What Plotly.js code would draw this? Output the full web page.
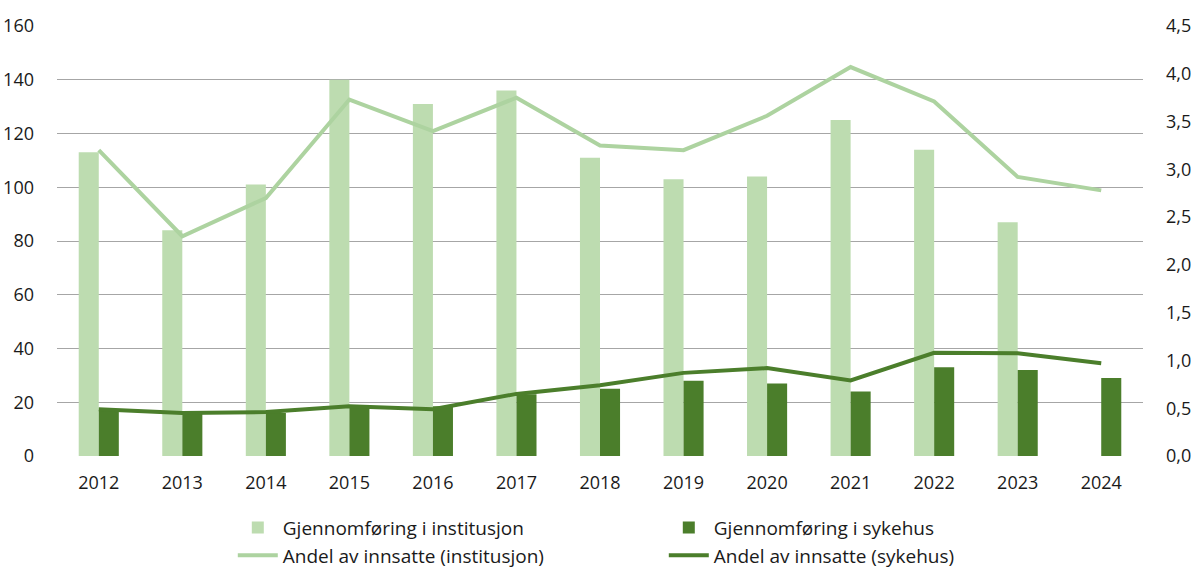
<!DOCTYPE html>
<html>
<head>
<meta charset="utf-8">
<script src="https://cdn.plot.ly/plotly-3.0.1.min.js"></script>
<style>
  html, body { margin: 0; padding: 0; background: #fff; }
  #chart { width: 1200px; height: 584px; }
</style>
</head>
<body>
<div id="chart"></div>
<script>
"use strict";

// years on the x axis
const years = ["2012", "2013", "2014", "2015", "2016", "2017", "2018",
               "2019", "2020", "2021", "2022", "2023", "2024"];

// bars, left axis (antall)
const institusjon = [113, 84, 101, 140, 131, 136, 111, 103, 104, 125, 114, 87, null];
const sykehus     = [17, 16, 16, 19, 18.5, 23, 25, 28, 27, 24, 33, 32, 29];

// lines, right axis (andel av innsatte, prosent)
const andelInstitusjon = [3.2, 2.3, 2.7, 3.73, 3.4, 3.75, 3.25, 3.2, 3.56, 4.07, 3.71, 2.92, 2.78];
const andelSykehus     = [0.49, 0.45, 0.46, 0.52, 0.49, 0.65, 0.74, 0.87, 0.92, 0.79, 1.08, 1.075, 0.97];

const lightGreen = "#bddcb0";
const lightLine  = "#add3a0";
const darkGreen  = "#4b7e2b";

const traces = [
    {
        type: "bar", name: "Gjennomføring i institusjon",
        x: years, y: institusjon,
        marker: { color: lightGreen },
        hoverinfo: "skip",
    },
    {
        type: "bar", name: "Gjennomføring i sykehus",
        x: years, y: sykehus,
        marker: { color: darkGreen },
        hoverinfo: "skip",
    },
    {
        type: "scatter", mode: "lines", name: "Andel av innsatte (institusjon)",
        x: years, y: andelInstitusjon, yaxis: "y2",
        line: { color: lightLine, width: 4 },
        hoverinfo: "skip",
    },
    {
        type: "scatter", mode: "lines", name: "Andel av innsatte (sykehus)",
        x: years, y: andelSykehus, yaxis: "y2",
        line: { color: darkGreen, width: 4 },
        hoverinfo: "skip",
    },
];

const layout = {
    width: 1200,
    height: 584,
    margin: { l: 57, r: 57, t: 26, b: 128 },
    paper_bgcolor: "#fff",
    plot_bgcolor: "#fff",
    font: { family: "Open Sans, sans-serif", size: 18, color: "#1a1a1a" },
    separators: ", ",
    barmode: "group",
    bargap: 0.52,
    bargroupgap: 0,
    showlegend: true,
    legend: {
        orientation: "h",
        xref: "container", yref: "container",
        x: 0.194, xanchor: "left",
        y: 0.129, yanchor: "top",
        entrywidth: 376,
        tracegroupgap: 0,
        itemwidth: 40,
        font: { size: 19 },
    },
    xaxis: {
        type: "category",
        showgrid: false,
        showline: false,
        zeroline: false,
        ticks: "",
        ticklabelstandoff: 14,
        fixedrange: true,
    },
    yaxis: {
        range: [0, 160],
        dtick: 20,
        tick0: 0,
        showgrid: true,
        gridcolor: "#a6a6a6",
        gridwidth: 1,
        zeroline: false,
        showline: false,
        ticks: "",
        ticklabelstandoff: 22,
        fixedrange: true,
    },
    yaxis2: {
        overlaying: "y",
        side: "right",
        range: [0, 4.5],
        dtick: 0.5,
        tick0: 0,
        tickformat: ".1f",
        showgrid: false,
        zeroline: false,
        showline: false,
        ticks: "",
        ticklabelstandoff: 22,
        fixedrange: true,
    },
};

Plotly.newPlot("chart", traces, layout, { displayModeBar: false, staticPlot: true });
</script>
</body>
</html>
